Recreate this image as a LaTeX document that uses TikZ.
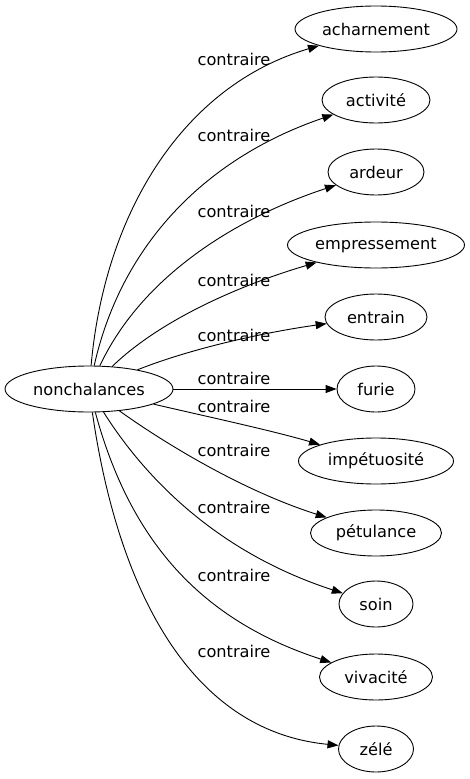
\documentclass[tikz,border=0pt]{standalone}
\usepackage{fontspec}
\setmainfont{DejaVu Sans}
\usetikzlibrary{shapes.geometric,arrows.meta}
\begin{document}
\begin{tikzpicture}[x=1pt,y=-1pt,
  word/.style={draw, ellipse, inner sep=0pt, minimum height=46pt, font=\fontsize{16.2}{18}\selectfont, line width=0.9pt},
  lab/.style={font=\fontsize{16.2}{18}\selectfont, inner sep=0pt},
  rel/.style={line width=0.9pt, -{Triangle[length=11pt,width=8pt]}}]
\useasboundingbox (0,0) rectangle (470,779);
\node[word, minimum width=168pt] (n) at (89,389) {nonchalances};
\node[word, minimum width=162pt] (t1) at (376,29) {acharnement};
\node[word, minimum width=108pt] (t2) at (376,100) {activité};
\node[word, minimum width=96pt] (t3) at (376,172) {ardeur};
\node[word, minimum width=177pt] (t4) at (376,245) {empressement};
\node[word, minimum width=102pt] (t5) at (376,317) {entrain};
\node[word, minimum width=78pt] (t6) at (376,389) {furie};
\node[word, minimum width=155pt] (t7) at (376,461) {impétuosité};
\node[word, minimum width=131pt] (t8) at (376,533) {pétulance};
\node[word, minimum width=74pt] (t9) at (376,604) {soin};
\node[word, minimum width=113pt] (t10) at (376,677) {vivacité};
\node[word, minimum width=75pt] (t11) at (376,749) {zélé};
\node[lab] (l1) at (234,59) {contraire};
\node[lab] (l2) at (234,135) {contraire};
\node[lab] (l3) at (234,211) {contraire};
\node[lab] (l4) at (234,280) {contraire};
\node[lab] (l5) at (234,335) {contraire};
\node[lab] (l6) at (234,378) {contraire};
\node[lab] (l7) at (234,406) {contraire};
\node[lab] (l8) at (234,450) {contraire};
\node[lab] (l9) at (234,507) {contraire};
\node[lab] (l10) at (234,575) {contraire};
\node[lab] (l11) at (234,651) {contraire};
\draw[rel] (n) .. controls (105,210) and (185,85) .. (t1);
\draw[rel] (n) .. controls (120,250) and (200,160) .. (t2);
\draw[rel] (n) .. controls (140,280) and (230,220) .. (t3);
\draw[rel] (n) .. controls (160,320) and (240,285) .. (t4);
\draw[rel] (n) .. controls (200,345) and (280,330) .. (t5);
\draw[rel] (n) -- (t6);
\draw[rel] (n) .. controls (200,415) and (270,430) .. (t7);
\draw[rel] (n) .. controls (160,440) and (240,490) .. (t8);
\draw[rel] (n) .. controls (140,470) and (210,550) .. (t9);
\draw[rel] (n) .. controls (130,540) and (200,620) .. (t10);
\draw[rel] (n) .. controls (115,570) and (180,730) .. (t11);
\end{tikzpicture}
\end{document}
